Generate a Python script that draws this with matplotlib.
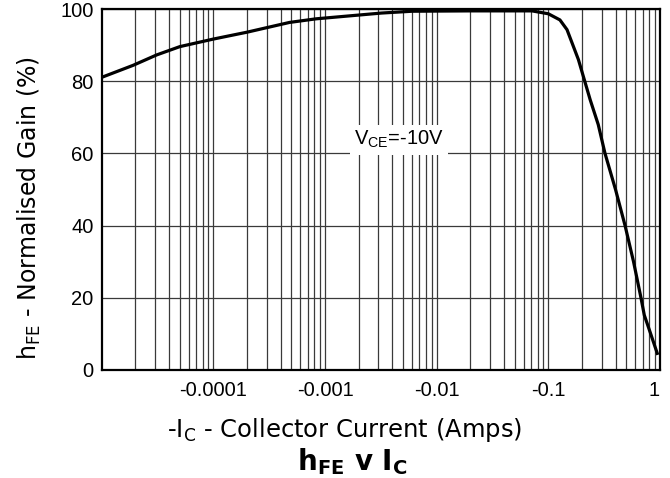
import matplotlib
matplotlib.use("Agg")
import matplotlib.pyplot as plt
from matplotlib.ticker import FixedLocator, NullFormatter

plt.rcParams["font.family"] = ["Liberation Sans", "DejaVu Sans"]
plt.rcParams["mathtext.fontset"] = "custom"
plt.rcParams["mathtext.rm"] = "Liberation Sans"
plt.rcParams["mathtext.bf"] = "Liberation Sans:bold"

# -Ic (A) vs normalised hFE (%)
ic = [1e-5, 1.9e-5, 3.1e-5, 5e-5, 1e-4, 2e-4, 4.8e-4, 8.3e-4, 3.2e-3,
      6e-3, 0.02, 0.05, 0.0714, 0.1, 0.127, 0.147, 0.186, 0.237, 0.28,
      0.322, 0.40, 0.487, 0.58, 0.676, 0.724, 0.814, 0.946]
gain = [81.1, 84.4, 87.3, 89.6, 91.7, 93.6, 96.3, 97.3, 98.9,
        99.4, 99.5, 99.5, 99.5, 98.7, 97.0, 94.3, 86.0, 74.9, 68.0,
        60.0, 50.0, 40.0, 30.0, 20.0, 15.2, 10.6, 4.6]

xticks = [1e-4, 1e-3, 1e-2, 1e-1, 1]
xticklabels = ["-0.0001", "-0.001", "-0.01", "-0.1", "1"]
yticks = [0, 20, 40, 60, 80, 100]

fig = plt.figure(figsize=(6.7, 4.78), dpi=100)
ax = fig.add_axes([0.152, 0.226, 0.833, 0.755])

ax.set_xscale("log")
ax.set_xlim(1e-5, 1)
ax.set_ylim(0, 100)

# log grid: every 1..9 per decade
minor = [m * 10.0 ** e for e in range(-5, 0) for m in range(2, 10)]
ax.xaxis.set_minor_locator(FixedLocator(minor))
ax.xaxis.set_minor_formatter(NullFormatter())
ax.set_xticks(xticks)
ax.set_xticklabels(xticklabels)
ax.get_xticklabels()[-1].set_ha("right")
ax.set_yticks(yticks)
ax.grid(True, which="both", axis="x", color="#3a3a3a", linewidth=0.9)
ax.grid(True, which="major", axis="y", color="#3a3a3a", linewidth=0.9)
ax.set_axisbelow(True)

ax.tick_params(which="both", length=0, labelsize=14.5)
ax.tick_params(axis="x", pad=8)
ax.tick_params(axis="y", pad=6)
for s in ax.spines.values():
    s.set_linewidth(1.6)
    s.set_color("black")

ax.plot(ic, gain, color="black", linewidth=2.3, solid_joinstyle="round", zorder=3)

ax.text(0.0046, 63.8, r"V$_{\mathregular{CE}}$=-10V", fontsize=14.5,
        ha="center", va="center", zorder=4,
        bbox=dict(facecolor="white", edgecolor="none", pad=3))

ax.set_ylabel(r"h$_{\mathregular{FE}}$ - Normalised Gain (%)", fontsize=17,
              family="DejaVu Sans")
ax.yaxis.set_label_coords(-0.106, 0.449)
ax.set_xlabel(r"-I$_{\mathregular{C}}$ - Collector Current (Amps)", fontsize=17.5,
              family="DejaVu Sans")
ax.xaxis.set_label_coords(0.435, -0.128)

fig.text(0.526, 0.035, r"h$_{\mathregular{FE}}$ v I$_{\mathregular{C}}$",
         fontsize=20, fontweight="bold", family="DejaVu Sans",
         ha="center", va="center")

fig.savefig("out.png", dpi=100)
